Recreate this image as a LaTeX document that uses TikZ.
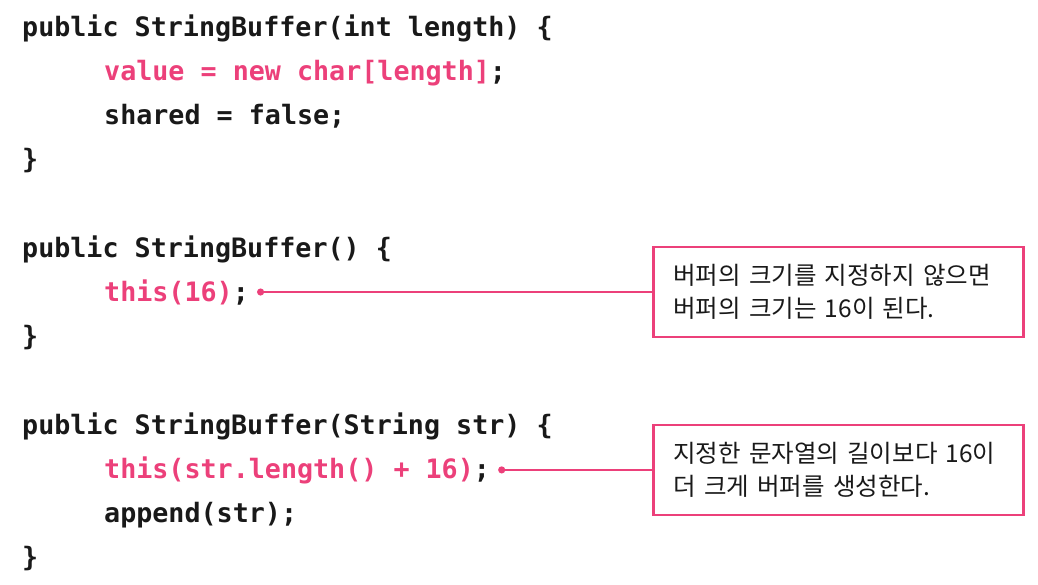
\documentclass[tikz,border=0pt]{standalone}
\usepackage{fontspec}
\setmonofont{DejaVu Sans Mono}
\newfontfamily\krfont[WordSpace=1.6]{Noto Sans CJK KR}
\usetikzlibrary{arrows.meta, positioning}
\definecolor{codepink}{RGB}{236, 64, 122}
\definecolor{codeink}{RGB}{25, 25, 25}
\newcommand{\hlcode}[1]{\textcolor{codepink}{#1}}

\begin{document}
\begin{tikzpicture}[
    x=1pt, y=-1pt,
    code/.style={anchor=base west, inner sep=0pt, text=codeink,
                 font=\fontsize{26.7}{30}\selectfont\ttfamily\bfseries},
    note/.style={draw=codepink, line width=2.6pt, anchor=west,
                 text width=330pt, minimum height=90pt, inner xsep=20pt,
                 align=left, text=codeink, font=\fontsize{24.5}{33}\selectfont\krfont},
    link/.style={{Circle[length=7pt]}-, codepink, line width=2pt},
  ]
    \useasboundingbox (0,0) rectangle (1038,584);

    % Constructor with length
    \node[code] (sig1) at (22,36) {public StringBuffer(int length) \{};
    \node[code] (val) at (104,80) {\hlcode{value = new char[length]};};
    \node[code] (shared) at (104,124) {shared = false;};
    \node[code] (end1) at (22,168) {\}};

    % Default constructor
    \node[code] (sig2) at (22,257) {public StringBuffer() \{};
    \node[code] (this16) at (104,301) {\hlcode{this(16)};};
    \node[code] (end2) at (22,345) {\}};

    % Constructor with String
    \node[code] (sig3) at (22,434) {public StringBuffer(String str) \{};
    \node[code] (thisstr) at (104,478) {\hlcode{this(str.length() + 16)};};
    \node[code] (app) at (104,522) {append(str);};
    \node[code] (end3) at (22,566) {\}};

    % Notes
    \node[note] (note1) at (652,0 |- this16.east)
      {버퍼의 크기를 지정하지 않으면\\버퍼의 크기는 16이 된다.};
    \node[note] (note2) at (652,0 |- thisstr.east)
      {지정한 문자열의 길이보다 16이\\더 크게 버퍼를 생성한다.};

    % Links
    \draw[link] ([xshift=8pt]this16.east) -- (note1.west);
    \draw[link] ([xshift=8pt]thisstr.east) -- (note2.west);
  \end{tikzpicture}
\end{document}
